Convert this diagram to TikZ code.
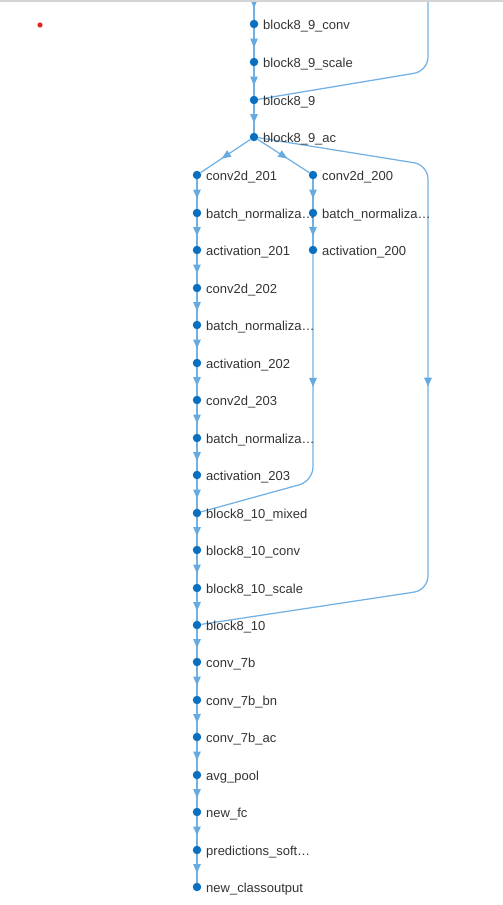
\documentclass[tikz,border=0pt]{standalone}
\usepackage{fontspec}
\setmainfont{Liberation Sans}
\usetikzlibrary{arrows.meta,decorations.markings,backgrounds}
\definecolor{dotc}{HTML}{0B6FC0}
\definecolor{edgec}{HTML}{72B1E4}
\definecolor{arrc}{HTML}{66AADF}
\definecolor{txtc}{HTML}{333333}
\definecolor{reddot}{HTML}{E8231E}
\newcommand\gnode[4]{%
  \node[dotn] (#1) at (#2,#3) {};
  \node[lbl] (#1-t) at ([xshift=9pt,yshift=-5pt]#1.center) {#4};}
\begin{document}
\begin{tikzpicture}[x=1pt,y=-1pt,
  dotn/.style={circle,fill=dotc,inner sep=0pt,minimum size=8.5pt},
  lbl/.style={font=\fontsize{13}{15}\selectfont,text=txtc,inner sep=0pt,anchor=base west},
  edge/.style={draw=edgec,line width=1.25pt},
  midarrow/.style={postaction={decorate},decoration={markings,
     mark=at position #1 with {\arrow[arrc,xshift=4.5pt]{Triangle[width=7.5pt,length=9pt]}}}},
  midarrow/.default=0.5,
  rc/.style={rounded corners=14pt}]
\useasboundingbox (0,0) rectangle (503,905);
\fill[black!17] (0,0) rectangle (503,2);
\fill[reddot] (40,25) circle (2.6pt);
% main column
\gnode{b89conv}{254}{24}{block8\_9\_conv}
\gnode{b89scale}{254}{62}{block8\_9\_scale}
\gnode{b89}{254}{100}{block8\_9}
\gnode{b89ac}{254}{137}{block8\_9\_ac}
% left column
\gnode{c201}{197}{175}{conv2d\_201}
\gnode{bn201}{197}{213}{batch\_normaliza…}
\gnode{a201}{197}{250}{activation\_201}
\gnode{c202}{197}{288}{conv2d\_202}
\gnode{bn202}{197}{325}{batch\_normaliza…}
\gnode{a202}{197}{363}{activation\_202}
\gnode{c203}{197}{400}{conv2d\_203}
\gnode{bn203}{197}{438}{batch\_normaliza…}
\gnode{a203}{197}{475}{activation\_203}
\gnode{b810m}{197}{513}{block8\_10\_mixed}
\gnode{b810conv}{197}{550}{block8\_10\_conv}
\gnode{b810scale}{197}{588}{block8\_10\_scale}
\gnode{b810}{197}{625}{block8\_10}
\gnode{c7b}{197}{662}{conv\_7b}
\gnode{c7bbn}{197}{700}{conv\_7b\_bn}
\gnode{c7bac}{197}{737}{conv\_7b\_ac}
\gnode{avg}{197}{775}{avg\_pool}
\gnode{fc}{197}{812}{new\_fc}
\gnode{pred}{197}{850}{predictions\_soft…}
\gnode{out}{197}{887}{new\_classoutput}
% middle column
\gnode{c200}{313}{175}{conv2d\_200}
\gnode{bn200}{313}{213}{batch\_normaliza…}
\gnode{a200}{313}{250}{activation\_200}
\coordinate (topm) at (254,0);
\coordinate (topr) at (428,0);
\begin{scope}[on background layer]
\draw[edge,midarrow=3.5pt] (topm) -- (b89conv);
\draw[edge,rc] (topr) -- (428,71) -- (b89);
\draw[edge,midarrow] (b89conv) -- (b89scale);
\draw[edge,midarrow] (b89scale) -- (b89);
\draw[edge,midarrow] (b89) -- (b89ac);
\draw[edge,midarrow] (b89ac) -- (c201);
\draw[edge,midarrow] (b89ac) -- (c200);
\draw[edge,rc,midarrow=384pt] (b89ac) -- (428,165) -- (428,590) -- (b810);
\draw[edge,midarrow] (c200) -- (bn200);
\draw[edge,midarrow] (bn200) -- (a200);
\draw[edge,rc,midarrow=128pt] (a200) -- (313,481) -- (b810m);
\foreach \a/\b in {c201/bn201,bn201/a201,a201/c202,c202/bn202,bn202/a202,a202/c203,c203/bn203,bn203/a203,a203/b810m,b810m/b810conv,b810conv/b810scale,b810scale/b810,b810/c7b,c7b/c7bbn,c7bbn/c7bac,c7bac/avg,avg/fc,fc/pred,pred/out}
  \draw[edge,midarrow] (\a) -- (\b);
\end{scope}
\end{tikzpicture}
\end{document}
